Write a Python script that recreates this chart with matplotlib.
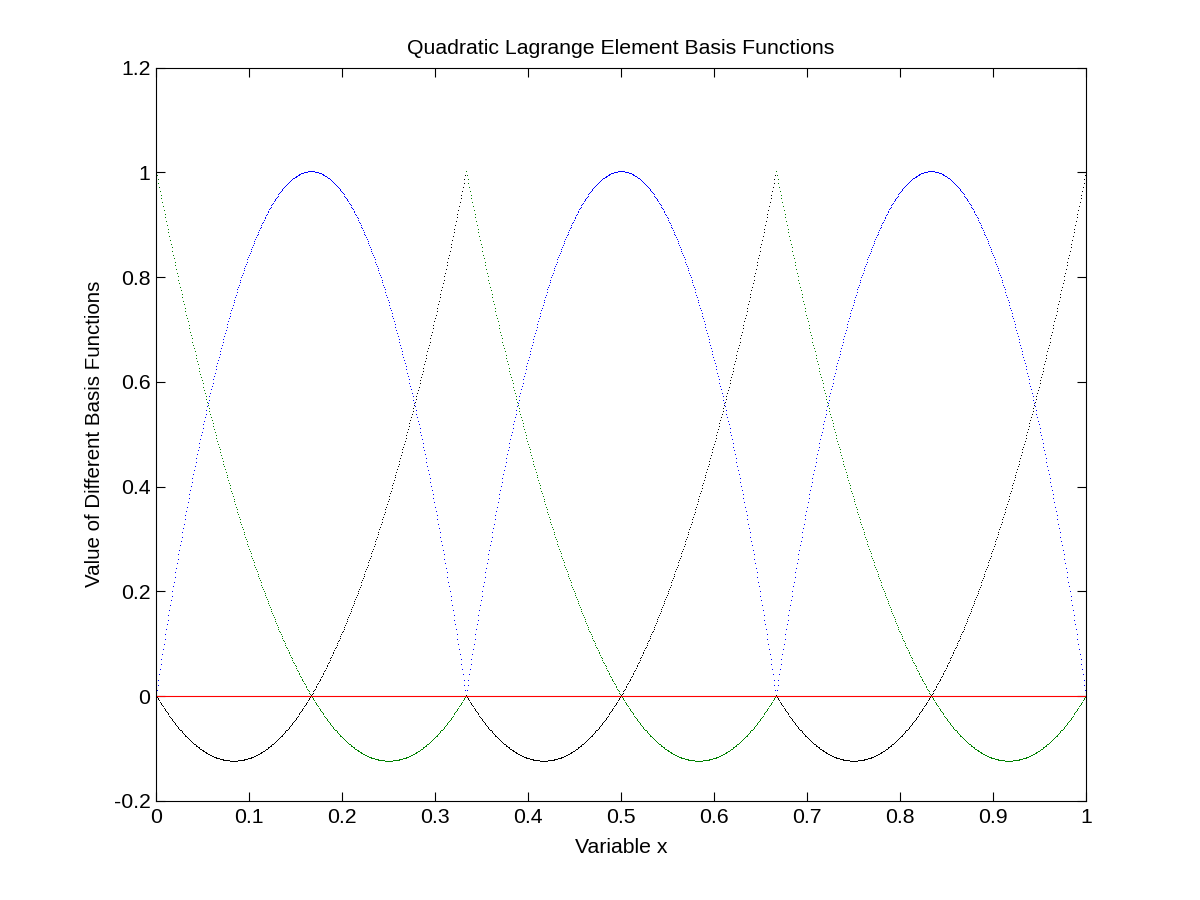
import numpy as np
import matplotlib
matplotlib.use("Agg")
import matplotlib.pyplot as plt

plt.rcParams['font.family'] = ['Liberation Sans', 'DejaVu Sans']

# Element edges of the three quadratic elements on [0, 1]
element_edges = [0.0, 1/3, 2/3, 1.0]
samples_per_element = 400

# Local quadratic Lagrange shape functions (nodes at s = 0, 0.5, 1) and their colours
shape_names = ["left corner", "middle", "right corner"]
shape_colors = ["#008000", "#0000ff", "#000000"]

def shape(k, s):
    if k == 0:
        return (1 - s) * (1 - 2 * s)
    if k == 1:
        return 4 * s * (1 - s)
    return s * (2 * s - 1)

x_ticks = [0, 0.1, 0.2, 0.3, 0.4, 0.5, 0.6, 0.7, 0.8, 0.9, 1]
x_labels = ["0", "0.1", "0.2", "0.3", "0.4", "0.5", "0.6", "0.7", "0.8", "0.9", "1"]
y_ticks = [-0.2, 0, 0.2, 0.4, 0.6, 0.8, 1, 1.2]
y_labels = ["-0.2", "0", "0.2", "0.4", "0.6", "0.8", "1", "1.2"]

FS = 15.3

fig = plt.figure(figsize=(12, 9), dpi=100)
ax = fig.add_axes([0.13, 0.11, 0.775, 0.815])

for a, b in zip(element_edges[:-1], element_edges[1:]):
    s = np.linspace(0, 1, samples_per_element + 1)
    x = a + (b - a) * s
    for k in range(3):
        ax.plot(x, shape(k, s), linestyle='none', marker=',', color=shape_colors[k])

ax.plot([0, 1], [0, 0], color='#ff0000', lw=0.8)

ax.set_xlim(0, 1)
ax.set_ylim(-0.2, 1.2)
ax.set_xticks(x_ticks)
ax.set_xticklabels(x_labels)
ax.set_yticks(y_ticks)
ax.set_yticklabels(y_labels)
ax.tick_params(direction='in', length=6.5, width=0.8, top=True, right=True,
               labelsize=FS, pad=4)
ax.tick_params(axis='x', pad=5)
for sp in ax.spines.values():
    sp.set_linewidth(0.8)

ax.set_title("Quadratic Lagrange Element Basis Functions", fontsize=FS, pad=10)
ax.set_xlabel("Variable x", fontsize=FS, labelpad=8)
ax.set_ylabel("Value of Different Basis Functions", fontsize=14.8, labelpad=7)

fig.savefig("out.png", dpi=100)
